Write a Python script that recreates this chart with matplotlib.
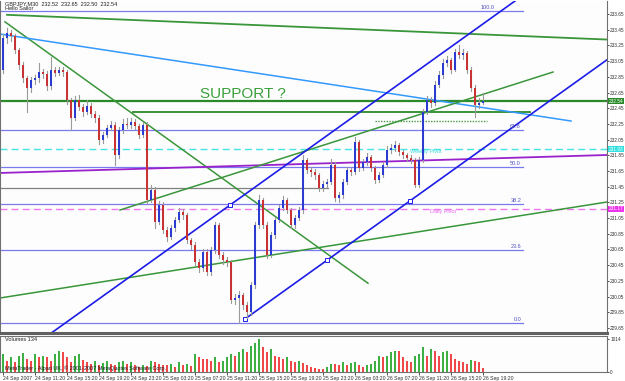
import matplotlib
matplotlib.use("Agg")
import matplotlib.pyplot as plt
from matplotlib.patches import Rectangle

plt.rcParams['font.family'] = ['Liberation Sans', 'DejaVu Sans']
NARROW = ['Liberation Sans Narrow', 'Liberation Sans', 'DejaVu Sans']

# ---------------- data ----------------
opens = [232.94, 233.34, 233.41, 233.37, 233.19, 233.00, 232.83, 232.71, 232.81, 232.83,
         232.91, 232.89, 232.73, 232.94, 232.90, 232.94, 232.91, 232.55, 232.33, 232.55,
         232.47, 232.40, 232.48, 232.38, 232.33, 232.05, 232.11, 232.20, 232.24, 231.85,
         232.17, 232.25, 232.24, 232.27, 232.22, 232.11, 232.24, 231.28, 231.41, 231.00,
         231.22, 230.90, 230.81, 230.92, 231.03, 231.13, 231.09, 230.77, 230.71, 230.49,
         230.41, 230.62, 230.36, 230.64, 230.96, 230.58, 230.52, 230.49, 230.01, 230.03,
         230.07, 229.94, 229.85, 230.20, 230.96, 231.28, 230.96, 230.58, 230.83, 231.03,
         231.18, 231.28, 231.15, 230.96, 231.05, 231.15, 231.79, 231.66, 231.64, 231.60,
         231.43, 231.48, 231.51, 231.73, 231.31, 231.34, 231.51, 231.66, 231.64, 232.02,
         231.69, 231.76, 231.83, 231.69, 231.54, 231.60, 231.73, 231.92, 231.94, 231.98,
         231.89, 231.85, 231.82, 231.79, 231.47, 231.79, 232.40, 232.55, 232.52, 232.75,
         232.87, 233.03, 233.06, 232.94, 233.17, 233.13, 233.15, 232.94, 232.71, 232.49,
         232.52]
closes = [233.34, 233.41, 233.37, 233.19, 233.00, 232.83, 232.71, 232.81, 232.83, 232.91,
          232.89, 232.73, 232.94, 232.90, 232.94, 232.91, 232.55, 232.33, 232.55, 232.47,
          232.40, 232.48, 232.38, 232.33, 232.05, 232.11, 232.20, 232.24, 231.85, 232.17,
          232.25, 232.24, 232.27, 232.22, 232.11, 232.24, 231.28, 231.41, 231.00, 231.22,
          230.90, 230.81, 230.92, 231.03, 231.13, 231.09, 230.77, 230.71, 230.49, 230.41,
          230.62, 230.36, 230.64, 230.96, 230.58, 230.52, 230.49, 230.01, 230.03, 230.07,
          229.94, 229.85, 230.20, 230.96, 231.28, 230.96, 230.58, 230.83, 231.03, 231.18,
          231.28, 231.15, 230.96, 231.05, 231.15, 231.79, 231.66, 231.64, 231.60, 231.43,
          231.48, 231.51, 231.73, 231.31, 231.34, 231.51, 231.66, 231.64, 232.02, 231.69,
          231.76, 231.83, 231.69, 231.54, 231.60, 231.73, 231.92, 231.94, 231.98, 231.89,
          231.85, 231.82, 231.79, 231.47, 231.79, 232.40, 232.55, 232.52, 232.75, 232.87,
          233.03, 233.06, 232.94, 233.17, 233.13, 233.15, 232.94, 232.71, 232.49, 232.52,
          232.54]
highs = [233.40, 233.47, 233.45, 233.40, 233.22, 233.04, 232.86, 232.85, 232.87, 233.02,
         232.95, 232.92, 233.10, 232.98, 232.98, 232.97, 232.94, 232.58, 232.60, 232.62,
         232.51, 232.56, 232.52, 232.42, 232.36, 232.15, 232.24, 232.29, 232.27, 232.21,
         232.31, 232.33, 232.32, 232.31, 232.25, 232.28, 232.27, 231.47, 231.45, 231.27,
         231.25, 230.94, 230.96, 231.07, 231.18, 231.17, 231.12, 230.80, 230.74, 230.53,
         230.66, 230.65, 230.68, 231.00, 230.99, 230.62, 230.56, 230.52, 230.08, 230.12,
         230.10, 229.98, 230.24, 231.00, 231.34, 231.31, 231.00, 230.87, 231.07, 231.22,
         231.33, 231.31, 231.18, 231.09, 231.19, 231.85, 231.82, 231.70, 231.67, 231.63,
         231.52, 231.55, 231.80, 231.76, 231.38, 231.55, 231.70, 231.70, 232.08, 232.05,
         231.80, 231.88, 231.86, 231.72, 231.64, 231.77, 231.97, 232.00, 232.03, 232.01,
         231.92, 231.88, 231.85, 231.82, 231.83, 232.44, 232.60, 232.59, 232.80, 232.92,
         233.08, 233.12, 233.09, 233.21, 233.26, 233.20, 233.18, 232.97, 232.74, 232.58,
         232.65]
lows = [232.90, 233.28, 233.30, 233.15, 232.95, 232.78, 232.40, 232.66, 232.76, 232.79,
        232.84, 232.68, 232.70, 232.86, 232.87, 232.86, 232.50, 232.17, 232.30, 232.43,
        232.35, 232.37, 232.34, 232.28, 232.00, 232.01, 232.08, 232.17, 231.73, 231.82,
        232.14, 232.20, 232.20, 232.18, 232.07, 232.08, 231.24, 231.25, 230.92, 230.97,
        230.86, 230.76, 230.78, 230.89, 231.00, 231.04, 230.73, 230.66, 230.45, 230.36,
        230.38, 230.32, 230.33, 230.60, 230.54, 230.47, 230.44, 229.97, 229.96, 229.71,
        229.89, 229.78, 229.82, 230.16, 230.92, 230.92, 230.54, 230.55, 230.80, 231.00,
        231.15, 231.11, 230.92, 230.93, 231.02, 231.12, 231.62, 231.59, 231.55, 231.39,
        231.40, 231.45, 231.48, 231.27, 231.26, 231.31, 231.48, 231.60, 231.61, 231.65,
        231.66, 231.73, 231.65, 231.50, 231.51, 231.57, 231.70, 231.88, 231.90, 231.85,
        231.81, 231.78, 231.75, 231.44, 231.45, 231.76, 232.37, 232.47, 232.49, 232.72,
        232.84, 232.99, 232.90, 232.92, 233.09, 233.08, 232.90, 232.67, 232.34, 232.45,
        232.50]
volumes = [540, 350, 450, 300, 500, 590, 400, 350, 540, 450,
           500, 450, 350, 540, 640, 600, 450, 300, 500, 540,
           370, 300, 250, 350, 200, 280, 330, 250, 200, 300,
           350, 250, 300, 200, 150, 220, 180, 350, 300, 250,
           200, 200, 250, 150, 300, 200, 250, 180, 550, 450,
           400, 400, 350, 450, 300, 350, 450, 550, 500, 620,
           700, 600, 800, 900, 1014, 750, 600, 700, 500, 450,
           400, 450, 350, 300, 350, 280, 200, 150, 120, 100,
           80, 150, 250, 250, 200, 300, 200, 280, 300, 220,
           150, 200, 250, 350, 500, 450, 500, 600, 650, 640,
           450, 350, 300, 500, 550, 750, 500, 700, 650, 500,
           600, 650, 550, 400, 350, 300, 250, 380, 350, 320,
           134]
date_labels = ["24 Sep 2007", "24 Sep 11:20", "24 Sep 15:20", "24 Sep 19:20", "24 Sep 23:20",
               "25 Sep 03:20", "25 Sep 07:20", "25 Sep 11:20", "25 Sep 15:20", "25 Sep 19:20",
               "25 Sep 23:20", "26 Sep 03:20", "26 Sep 07:20", "26 Sep 11:20", "26 Sep 15:20",
               "26 Sep 19:20"]
date_bars = [0, 8, 16, 24, 32, 40, 48, 56, 64, 72, 80, 88, 96, 104, 112, 120]
price_ticks = [229.65, 229.85, 230.05, 230.25, 230.45, 230.65, 230.85, 231.05, 231.25,
               231.45, 231.65, 231.85, 232.05, 232.25, 232.45, 232.65, 232.85, 233.05,
               233.25, 233.45, 233.65]
fib_levels = [233.69, 232.17, 231.70, 231.23, 230.64, 229.71]
fib_names = ["100.0", "61.8", "50.0", "38.2", "23.6", "0.0"]
bid_price = 232.54
weekly_pivot = 231.93
daily_pivot = 231.17
support_level = 232.40
dotted_level = 232.29
gray_level = 231.43
# trend lines: (bar0, price0, bar1, price1)
green_down = (0.5, 233.55, 91.25, 230.22)
green_top = (1.0, 233.64, 151.0, 233.325)
lightblue_down = (-0.75, 233.395, 142.0, 232.287)
blue_upper = (12.0, 229.583, 128.0, 233.816)
blue_lower = (60.5, 229.765, 151.0, 233.067)
green_up1 = (29.25, 231.153, 137.5, 232.911)
green_up2 = (-0.75, 230.032, 151.0, 231.255)
purple_line = (-0.75, 231.625, 151.0, 231.854)
channel_marks = [(60.5, 229.765), (81.0, 230.513), (101.75, 231.27), (56.75, 231.216)]

# ---------------- figure ----------------
W, H = 625, 381
fig = plt.figure(figsize=(W / 100, H / 100), dpi=100)
fig.patch.set_facecolor('white')

def px_axes(x0, y0, x1, y1):
    return fig.add_axes([x0 / W, 1 - y1 / H, (x1 - x0) / W, (y1 - y0) / H])

ax = px_axes(0, 1, 607, 333)
axv = px_axes(0, 336, 607, 372)
XL = (-0.75, 151.0)
ax.set_xlim(*XL)
ax.set_ylim(229.586, 233.816)
axv.set_xlim(*XL)
axv.set_ylim(0, 1100)

for a in (ax, axv):
    a.set_facecolor('#fdfdfd')
    for s in a.spines.values():
        s.set_color('#707070')
        s.set_linewidth(0.8)
ax.spines['bottom'].set_linewidth(2.2)
ax.spines['bottom'].set_color('#606060')
ax.spines['top'].set_visible(False)

# horizontal levels
ax.axhline(bid_price, color='#2a8a2a', lw=1.6, zorder=2)
ax.plot([32.5, 131.75], [support_level] * 2, color='#2a8a2a', lw=1.3, zorder=2)
ax.plot([93, 121], [dotted_level] * 2, color='#4a9a4a', lw=1.0, ls=(0, (1, 1)), zorder=2)
ax.plot([-0.75, 81.25], [gray_level] * 2, color='#808080', lw=0.9, zorder=2)
ax.axhline(weekly_pivot, color='#44e4e4', lw=1.0, ls=(0, (5, 3)), zorder=2)
ax.axhline(daily_pivot, color='#ee77ee', lw=1.0, ls=(0, (5, 3)), zorder=2)
for lv, nm in zip(fib_levels, fib_names):
    ax.plot([-0.75, 130], [lv, lv], color='#7a7af0', lw=0.9, zorder=2)
    xt = 123.0 if nm == "100.0" else 129.5
    ax.text(xt, lv + 0.01, nm, fontsize=4.0, color='#5050c0', ha='right', va='bottom',
            family=NARROW)

def tline(t, **kw):
    ax.plot([t[0], t[2]], [t[1], t[3]], **kw)

tline(green_top, color='#3a963a', lw=1.3, zorder=2)
tline(green_down, color='#3a963a', lw=1.1, zorder=2)
tline(lightblue_down, color='#3399ff', lw=1.1, zorder=2)
tline(purple_line, color='#9a22cc', lw=1.3, zorder=2)
tline(green_up1, color='#3a963a', lw=1.1, zorder=2)
tline(green_up2, color='#3a963a', lw=1.1, zorder=2)
tline(blue_upper, color='#1c1ce6', lw=1.2, zorder=2)
tline(blue_lower, color='#1c1ce6', lw=1.2, zorder=2)
for bx, by in channel_marks:
    ax.plot(bx, by, marker='s', ms=2.2, mfc='white', mec='#1c1ce6', mew=0.7, zorder=3)

# candles
for i, (o, h, l, c) in enumerate(zip(opens, highs, lows, closes)):
    ax.plot([i, i], [l, h], color='#9a9a9a', lw=0.8, zorder=4)
    col = '#2b3bd0' if c >= o else '#c83232'
    bot = min(o, c)
    hgt = max(abs(c - o), 0.012)
    ax.add_patch(Rectangle((i - 0.3, bot), 0.6, hgt, facecolor=col, edgecolor='none', zorder=5))

# texts in main chart
ax.text(0.5, 233.78, "GBPJPY,M30  232.52  232.65  232.50  232.54", fontsize=4.0,
        color='#202020', ha='left', va='center', family=NARROW)
ax.text(0.5, 233.72, "Hello Sailor", fontsize=4.0, color='#202020', ha='left', va='center',
        family=NARROW)
ax.text(49.25, 232.63, "SUPPORT ?", fontsize=11, color='#3aa03a', ha='left', va='center')
ax.text(101.75, 231.90, "Weekly Pivot", fontsize=4.0, color='#33dddd', ha='left', va='center',
        family=NARROW)
ax.text(106.75, 231.14, "Daily Pivot", fontsize=4.0, color='#ee66ee', ha='left', va='center',
        family=NARROW)

# price axis
ax.yaxis.tick_right()
ax.set_yticks(price_ticks)
ax.set_yticklabels([f"{p:.2f}" for p in price_ticks], family=NARROW)
ax.tick_params(axis='y', labelsize=3.4, length=1.5, pad=0.8, colors='#303030', width=0.6)
ax.set_xticks([])
for val, fc in ((bid_price, '#2a8a2a'), (weekly_pivot, '#33e0e0'), (daily_pivot, '#ee33ee')):
    ax.text(1.0025, val, f"{val:.2f}", transform=ax.get_yaxis_transform(), fontsize=3.4,
            color='white', ha='left', va='center', clip_on=False, family=NARROW,
            bbox=dict(boxstyle='square,pad=0.1', fc=fc, ec='none'))

# volume panel
prev = None
for i, v in enumerate(volumes):
    col = '#3cb043' if (prev is None or v > prev) else '#f04848'
    axv.bar(i, v, width=0.42, color=col, linewidth=0)
    prev = v
axv.text(0.5, 980, "Volumes 134", fontsize=4.0, color='#202020', ha='left', va='center',
         family=NARROW)
axv.text(0.5, 110, "MetaTrader - Alpari UK, \u00a9 2001-2007 MetaQuotes Software Corp.",
         fontsize=4.0, color='#202020', ha='left', va='center', family=NARROW)
axv.yaxis.tick_right()
axv.set_yticks([0, 1014])
axv.set_yticklabels(["0", "1014"], family=NARROW)
axv.tick_params(axis='y', labelsize=3.4, length=1.5, pad=0.8, colors='#303030', width=0.6)
axv.set_xticks(date_bars)
axv.set_xticklabels(date_labels, family=NARROW)
axv.tick_params(axis='x', labelsize=3.7, length=2, pad=1, colors='#303030', width=0.6)
for t in axv.get_xticklabels():
    t.set_ha('left')

fig.savefig("out.png", dpi=100, facecolor='white')
